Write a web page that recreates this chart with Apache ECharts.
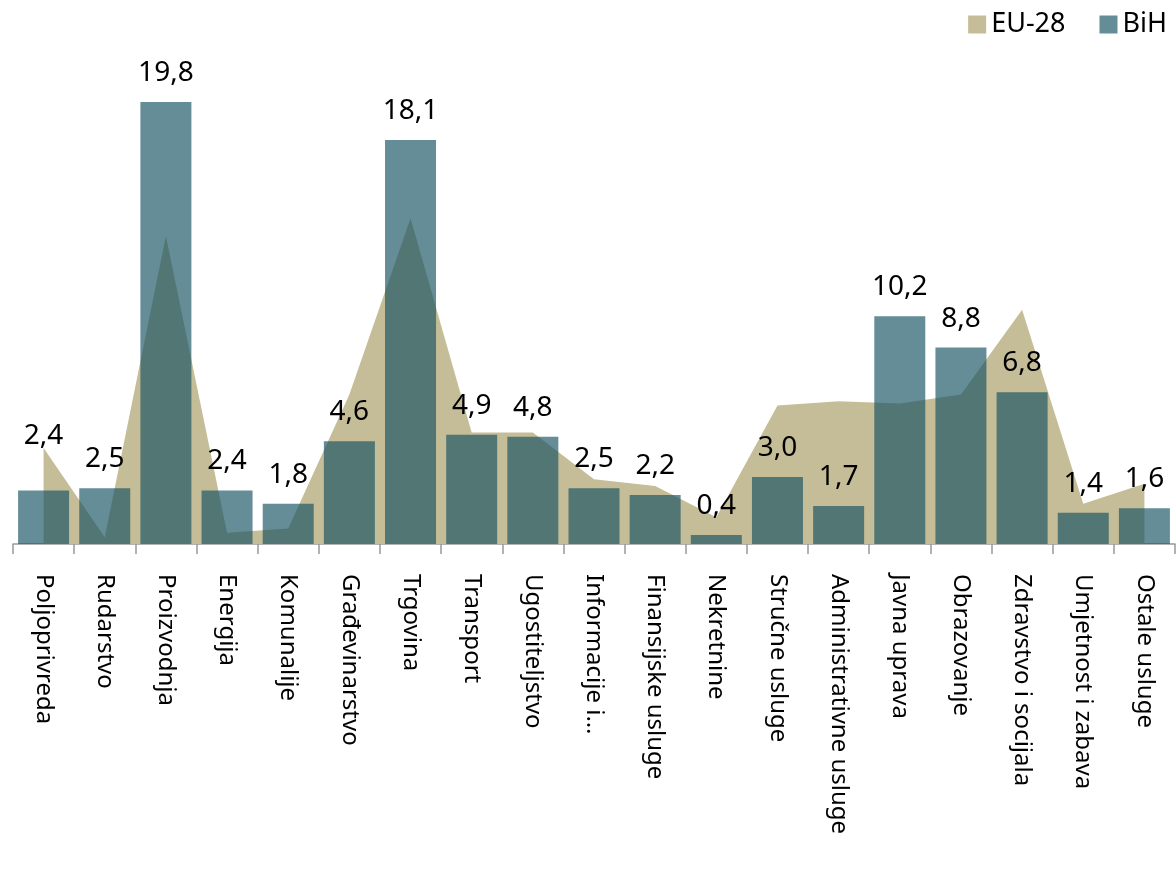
<!DOCTYPE html>
<html>
<head>
<meta charset="UTF-8">
<title>Zaposlenost po djelatnostima</title>
<script src="https://cdn.jsdelivr.net/npm/echarts@6/dist/echarts.min.js"></script>
</head>
<body style="margin:0">
<div id="main" style="width:1176px;height:871px;"></div>
<script type="text/javascript">
var categories = ['Poljoprivreda', 'Rudarstvo', 'Proizvodnja', 'Energija', 'Komunalije', 'Građevinarstvo',
    'Trgovina', 'Transport', 'Ugostiteljstvo', 'Informacije i…', 'Finansijske usluge', 'Nekretnine',
    'Stručne usluge', 'Administrativne usluge', 'Javna uprava', 'Obrazovanje', 'Zdravstvo i socijala',
    'Umjetnost i zabava', 'Ostale usluge'];
var bih = [2.4, 2.5, 19.8, 2.4, 1.8, 4.6, 18.1, 4.9, 4.8, 2.5, 2.2, 0.4, 3.0, 1.7, 10.2, 8.8, 6.8, 1.4, 1.6];
var eu28 = [4.3, 0.3, 13.8, 0.5, 0.7, 6.7, 14.6, 5.0, 5.0, 2.9, 2.6, 1.2, 6.2, 6.4, 6.3, 6.7, 10.5, 1.8, 2.7];

var font = 'Noto Sans';

// first label sits higher in the original
var bihData = bih.map(function (v, i) {
    if (i === 0) return { value: v, label: { distance: 40 } };
    return v;
});

var myChart = echarts.init(document.getElementById('main'));
myChart.setOption({
    animation: false,
    textStyle: { fontFamily: font },
    legend: {
        data: ['EU-28', 'BiH'],
        right: 4,
        top: 6,
        icon: 'rect',
        itemWidth: 18,
        itemHeight: 18,
        itemGap: 34,
        textStyle: { fontSize: 27, color: '#000', fontFamily: font }
    },
    grid: {
        left: 13,
        right: 1,
        top: 97.6,
        bottom: 327,
        containLabel: false,
        outerBoundsMode: 'none'
    },
    xAxis: {
        type: 'category',
        data: categories,
        boundaryGap: true,
        axisLine: { lineStyle: { color: '#999', width: 1.5 } },
        axisTick: { show: true, length: 10, interval: 0, lineStyle: { color: '#999', width: 1.5 } },
        axisLabel: {
            interval: 0,
            rotate: -90,
            margin: 30,
            fontSize: 24,
            color: '#000',
            fontFamily: font
        }
    },
    yAxis: {
        type: 'value',
        min: 0,
        max: 20,
        show: false,
        splitLine: { show: false }
    },
    series: [
        {
            name: 'EU-28',
            type: 'line',
            data: eu28,
            symbol: 'none',
            lineStyle: { width: 0 },
            itemStyle: { color: '#C5BD97' },
            areaStyle: { color: '#C5BD97', opacity: 1 },
            z: 1
        },
        {
            name: 'BiH',
            type: 'bar',
            data: bihData,
            barWidth: 51,
            itemStyle: { color: 'rgba(22,82,98,0.66)' },
            label: {
                show: true,
                position: 'top',
                distance: 15,
                fontSize: 28,
                color: '#000',
                fontFamily: font,
                formatter: function (p) {
                    return p.value.toFixed(1).replace('.', ',');
                }
            },
            z: 2
        }
    ]
});
</script>
</body>
</html>
